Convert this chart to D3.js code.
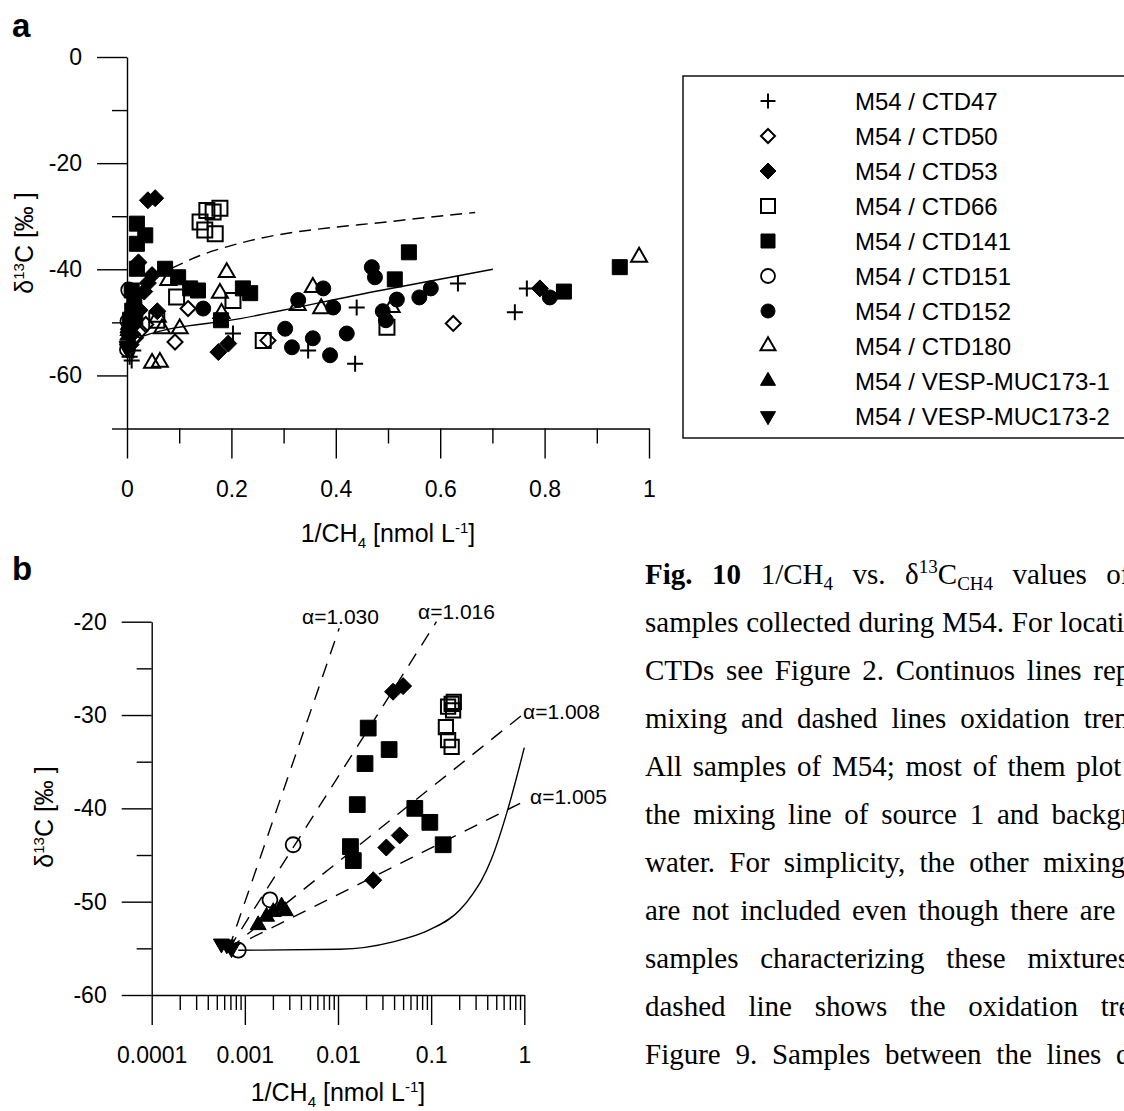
<!DOCTYPE html>
<html>
<head>
<meta charset="utf-8">
<script src="https://cdn.jsdelivr.net/npm/d3@7"></script>
<style>
  html, body { margin: 0; padding: 0; background: #fff; }
  svg { display: block; }
</style>
</head>
<body>
<svg id="fig" width="1124" height="1111"></svg>
<script>
// ---------- legend / series names ----------
const seriesNames = [
  "M54 / CTD47", "M54 / CTD50", "M54 / CTD53", "M54 / CTD66", "M54 / CTD141",
  "M54 / CTD151", "M54 / CTD152", "M54 / CTD180", "M54 / VESP-MUC173-1", "M54 / VESP-MUC173-2"
];

// ---------- panel a: [1/CH4, d13C] ----------
const a47 = [[0.440,-47.2],[0.203,-52.1],[0.347,-55.3],[0.437,-57.8],[0.634,-42.7],[0.766,-43.6],
  [0.743,-48.1],[0.012,-55.3],[0.005,-56.5],[0.009,-57.2]];
const a50 = [[0.117,-47.4],[0.092,-53.7],[0.270,-53.4],[0.625,-50.2],[0.025,-51.6],[0.036,-50.4],[0.016,-52.9]];
const a53 = [[0.040,-27.0],[0.054,-26.6],[0.022,-38.7],[0.048,-41.1],[0.040,-42.6],[0.033,-44.2],
  [0.024,-47.7],[0.058,-47.9],[0.175,-55.6],[0.194,-54.0],[0.791,-43.6],[0.015,-50.3],[0.010,-52.2],[0.007,-54.2]];
const a66 = [[0.153,-28.9],[0.165,-29.2],[0.178,-28.5],[0.140,-31.1],[0.149,-32.6],[0.169,-33.3],
  [0.095,-45.2],[0.203,-45.9],[0.057,-49.6],[0.261,-53.4],[0.498,-50.9]];
const a141 = [[0.019,-31.4],[0.035,-33.6],[0.019,-35.2],[0.019,-39.9],[0.073,-39.9],[0.098,-41.5],
  [0.121,-43.6],[0.136,-44.0],[0.222,-43.6],[0.236,-44.5],[0.180,-49.6],[0.540,-36.8],[0.513,-41.9],
  [0.837,-44.2],[0.944,-39.6],[0.009,-44.0],[0.014,-45.4],[0.010,-47.8],[0.016,-48.6],[0.006,-49.5]];
const a151 = [[0.00085,-55.1],[0.00186,-49.8],[0.0033,-43.9]];
const a152 = [[0.146,-47.4],[0.328,-45.8],[0.376,-43.6],[0.395,-47.2],[0.303,-51.2],[0.316,-54.7],
  [0.356,-53.0],[0.389,-56.2],[0.421,-52.1],[0.469,-39.6],[0.475,-41.5],[0.517,-45.7],[0.490,-47.9],
  [0.496,-49.6],[0.560,-45.3],[0.582,-43.6],[0.810,-45.3]];
const a180 = [[0.191,-40.6],[0.079,-42.1],[0.178,-44.5],[0.181,-48.3],[0.356,-43.4],[0.372,-47.4],
  [0.327,-46.8],[0.067,-51.2],[0.101,-51.2],[0.048,-57.7],[0.063,-57.5],[0.507,-47.2],[0.981,-37.7],[0.059,-49.0]];
const aV1 = [[0.00139,-52.5],[0.00171,-51.6],[0.00202,-51.1],[0.00248,-50.5],[0.00272,-51.0]];
const aV2 = [[0.00056,-54.5],[0.00064,-54.6],[0.00072,-55.0]];

// mixing (solid) and oxidation (dashed) trends, panel a
const mixA = [[0.001,-55.6],[0.009,-55.0],[0.019,-53.7],[0.031,-52.6],[0.217,-49.3],[0.485,-44.0],[0.701,-40.0]];
const oxA  = [[0.086,-39.8],[0.140,-37.4],[0.201,-35.5],[0.523,-30.8],[0.667,-29.3]];

// ---------- panel b: [1/CH4 (log), d13C] ----------
const b53  = [[0.039,-27.5],[0.050,-26.9],[0.046,-42.9],[0.033,-44.2],[0.0239,-47.7]];
const b66  = [[0.175,-28.6],[0.166,-28.8],[0.152,-29.1],[0.172,-29.5],[0.144,-31.3],[0.152,-32.7],[0.166,-33.4]];
const b141 = [[0.0211,-31.4],[0.0354,-33.7],[0.0195,-35.2],[0.0161,-39.6],[0.0668,-40.0],[0.0968,-41.5],
  [0.1346,-43.9],[0.0136,-44.1],[0.0146,-45.6]];
const b151 = [[0.00085,-55.2],[0.00186,-49.8],[0.0033,-43.9]];
const bV1  = [[0.00139,-52.5],[0.00171,-51.6],[0.00202,-51.1],[0.00248,-50.5],[0.00272,-51.0]];
const bV2  = [[0.00056,-54.5],[0.00064,-54.6],[0.00072,-55.0]];

const mixB = [[0.00085,-55.2],[0.0105,-55.1],[0.039,-54.3],[0.0968,-53.0],[0.203,-50.9],[0.283,-49.1],
  [0.348,-47.7],[0.445,-45.4],[0.67,-40.0],[1.0,-33.5]];
const oxOrigin = [0.00067,-55.1];
const oxLabels = ["α=1.030","α=1.016","α=1.008","α=1.005"];
const oxEnds   = [[0.0103,-20.7],[0.114,-20.0],[0.92,-30.1],[0.97,-39.3]];

// ---------- ticks ----------
const aXMajor = [0,0.2,0.4,0.6,0.8,1], aXLabels = ["0","0.2","0.4","0.6","0.8","1"];
const aXMinor = [0.1,0.3,0.5,0.7,0.9];
const aYMajor = [0,-20,-40,-60], aYLabels = ["0","-20","-40","-60"];
const aYMinor = [-10,-30,-50,-70];
const bXMajor = [1e-4,1e-3,1e-2,1e-1,1], bXLabels = ["0.0001","0.001","0.01","0.1","1"];
const bXMinor = [1e-4,1e-3,1e-2,1e-1].flatMap(d => [2,3,4,5,6,7,8,9].map(k => +(d*k).toPrecision(3)));
const bYMajor = [-20,-30,-40,-50,-60], bYLabels = ["-20","-30","-40","-50","-60"];
const bYMinor = [-25,-35,-45,-55];

// ---------- caption ----------
const captionLines = [
  [["Fig. 10","b"],[" 1/CH",""],["4","sub"],[" vs. δ",""],["13","sup"],["C",""],["CH4","sub"],[" values of the",""]],
  [["samples collected during M54. For locations of",""]],
  [["CTDs see Figure 2. Continuos lines represent",""]],
  [["mixing and dashed lines oxidation trends. a)",""]],
  [["All samples of M54; most of them plot near",""]],
  [["the mixing line of source 1 and background",""]],
  [["water. For simplicity, the other mixing lines",""]],
  [["are not included even though there are some",""]],
  [["samples characterizing these mixtures. b) The",""]],
  [["dashed line shows the oxidation trend of",""]],
  [["Figure 9. Samples between the lines do",""]]
];
const captionSpacing = [12.3, 0.5, 4.5, 6.7, 3.5, 5.5, 7, 4.3, 14.5, 15.6, 7.5];

// ================= drawing =================
const SANS = 'Arial, "Liberation Sans", Helvetica, sans-serif';
const SERIF = '"Times New Roman", "Liberation Serif", serif';
const svg = d3.select("#fig");
svg.append("rect").attr("width", 1124).attr("height", 1111).attr("fill", "#fff");

// marker shapes; size = width in px
const symPlus = { draw(c, s) { const r = s/2; c.moveTo(-r,0); c.lineTo(r,0); c.moveTo(0,-r); c.lineTo(0,r); } };
const symSquare = { draw(c, s) { c.rect(-s/2, -s/2, s, s); } };
const symDiamond = { draw(c, s) { const r = s/2; c.moveTo(0,-r); c.lineTo(r,0); c.lineTo(0,r); c.lineTo(-r,0); c.closePath(); } };
const symCircle = { draw(c, s) { const r = s/2; c.moveTo(r,0); c.arc(0,0,r,0,2*Math.PI); } };
const symTri = { draw(c, s) { const h = s*Math.sqrt(3)/2; c.moveTo(0,-2*h/3); c.lineTo(s/2,h/3); c.lineTo(-s/2,h/3); c.closePath(); } };
const symTriDown = { draw(c, s) { const h = s*Math.sqrt(3)/2; c.moveTo(0,2*h/3); c.lineTo(s/2,-h/3); c.lineTo(-s/2,-h/3); c.closePath(); } };

const styles = [
  { type: symPlus,    size: 16, fill: "none", sw: 2 },
  { type: symDiamond, size: 15, fill: "none", sw: 2 },
  { type: symDiamond, size: 17, fill: "#000", sw: 1 },
  { type: symSquare,  size: 15, fill: "none", sw: 2 },
  { type: symSquare,  size: 15, fill: "#000", sw: 1 },
  { type: symCircle,  size: 15, fill: "none", sw: 1.8 },
  { type: symCircle,  size: 15, fill: "#000", sw: 1 },
  { type: symTri,     size: 16, fill: "none", sw: 2 },
  { type: symTri,     size: 16, fill: "#000", sw: 1 },
  { type: symTriDown, size: 16, fill: "#000", sw: 1 }
];

function drawPoints(g, data, st, x, y, sizeScale = 1) {
  g.append("g").selectAll("path").data(data).join("path")
    .attr("transform", d => `translate(${x(d[0])},${y(d[1])})`)
    .attr("d", d3.symbol().type(st.type).size(st.size * sizeScale))
    .attr("fill", st.fill).attr("stroke", "#000").attr("stroke-width", st.sw);
}

function styleAxis(g, fs) {
  g.attr("font-family", SANS).attr("font-size", fs);
  g.selectAll("path, line").attr("stroke", "#000").attr("stroke-width", 1.4);
  g.selectAll("text").attr("fill", "#000");
}

// rich text: parts = [[text, kind]] with kind "", "b", "sub", "sup"
function rich(text, parts, fs, ratio = 0.65) {
  let cur = 0;
  parts.forEach(([t, k]) => {
    const shift = k === "sub" ? fs*0.22 : k === "sup" ? -fs*0.38 : 0;
    const ts = text.append("tspan").text(t).attr("dy", shift - cur);
    cur = shift;
    if (k === "sub" || k === "sup") ts.attr("font-size", Math.round(fs*ratio));
    if (k === "b") ts.attr("font-weight", "bold");
  });
}

// ---------- panel a ----------
const xA = d3.scaleLinear().domain([0, 1]).range([127, 649]);
const yA = d3.scaleLinear().domain([-70, 0]).range([428.5, 57]);
const pa = svg.append("g");

pa.append("text").attr("x", 12).attr("y", 37).attr("font-family", SANS)
  .attr("font-size", 33).attr("font-weight", "bold").text("a");

let g = pa.append("g").attr("transform", `translate(0,${yA(-70)})`)
  .call(d3.axisBottom(xA).tickValues(aXMajor).tickSize(30).tickSizeOuter(0).tickPadding(22)
    .tickFormat((d, i) => aXLabels[i]));
styleAxis(g, 23);
g = pa.append("g").attr("transform", `translate(0,${yA(-70)})`)
  .call(d3.axisBottom(xA).tickValues(aXMinor).tickSize(15).tickFormat(""));
g.select(".domain").remove(); styleAxis(g, 23);
g = pa.append("g").attr("transform", `translate(${xA(0)},0)`)
  .call(d3.axisLeft(yA).tickValues(aYMajor).tickSize(30).tickSizeOuter(0).tickPadding(15)
    .tickFormat((d, i) => aYLabels[i]));
styleAxis(g, 23);
g = pa.append("g").attr("transform", `translate(${xA(0)},0)`)
  .call(d3.axisLeft(yA).tickValues(aYMinor).tickSize(15).tickFormat(""));
g.select(".domain").remove(); styleAxis(g, 23);

rich(pa.append("text").attr("x", 388).attr("y", 542).attr("text-anchor", "middle")
  .attr("font-family", SANS).attr("font-size", 25),
  [["1/CH",""],["4","sub"],[" [nmol L",""],["-1","sup"],["]",""]], 25, 0.6);
rich(pa.append("text").attr("transform", "translate(33,243) rotate(-90)").attr("text-anchor", "middle")
  .attr("font-family", SANS).attr("font-size", 25),
  [["δ",""],["13","sup"],["C [‰ ]",""]], 25, 0.6);

const lineA = d3.line().x(d => xA(d[0])).y(d => yA(d[1])).curve(d3.curveMonotoneX);
pa.append("path").attr("d", lineA(mixA)).attr("fill", "none").attr("stroke", "#000").attr("stroke-width", 1.4);
pa.append("path").attr("d", lineA(oxA)).attr("fill", "none").attr("stroke", "#000").attr("stroke-width", 1.4)
  .attr("stroke-dasharray", "12,7");

[a47, a50, a53, a66, a141, a151, a152, a180, aV1, aV2].forEach((data, i) => drawPoints(pa, data, styles[i], xA, yA));

// legend
const lg = pa.append("g");
lg.append("rect").attr("x", 683).attr("y", 76).attr("width", 480).attr("height", 362)
  .attr("fill", "none").attr("stroke", "#000").attr("stroke-width", 1.4);
const rowY = d3.scalePoint().domain(d3.range(seriesNames.length)).range([101, 416]);
seriesNames.forEach((name, i) => {
  const st = styles[i];
  lg.append("path").attr("transform", `translate(768,${rowY(i)})`)
    .attr("d", d3.symbol().type(st.type).size(st.size - 1))
    .attr("fill", st.fill).attr("stroke", "#000").attr("stroke-width", st.sw);
  lg.append("text").attr("x", 855).attr("y", rowY(i)).attr("dy", "0.36em")
    .attr("font-family", SANS).attr("font-size", 24).text(name);
});

// ---------- panel b ----------
const xB = d3.scaleLog().domain([1e-4, 1]).range([151.7, 524.3]);
const yB = d3.scaleLinear().domain([-60, -20]).range([995, 621.7]);
const pb = svg.append("g");

pb.append("text").attr("x", 12).attr("y", 580).attr("font-family", SANS)
  .attr("font-size", 33).attr("font-weight", "bold").text("b");

g = pb.append("g").attr("transform", `translate(0,${yB(-60)})`)
  .call(d3.axisBottom(xB).tickValues(bXMajor).tickSize(30).tickSizeOuter(0).tickPadding(22)
    .tickFormat((d, i) => bXLabels[i]));
styleAxis(g, 23);
g = pb.append("g").attr("transform", `translate(0,${yB(-60)})`)
  .call(d3.axisBottom(xB).tickValues(bXMinor).tickSize(15).tickFormat(""));
g.select(".domain").remove(); styleAxis(g, 23);
g = pb.append("g").attr("transform", `translate(${xB(1e-4)},0)`)
  .call(d3.axisLeft(yB).tickValues(bYMajor).tickSize(30).tickSizeOuter(0).tickPadding(15)
    .tickFormat((d, i) => bYLabels[i]));
styleAxis(g, 23);
g = pb.append("g").attr("transform", `translate(${xB(1e-4)},0)`)
  .call(d3.axisLeft(yB).tickValues(bYMinor).tickSize(15).tickFormat(""));
g.select(".domain").remove(); styleAxis(g, 23);

rich(pb.append("text").attr("x", 338).attr("y", 1101).attr("text-anchor", "middle")
  .attr("font-family", SANS).attr("font-size", 25),
  [["1/CH",""],["4","sub"],[" [nmol L",""],["-1","sup"],["]",""]], 25, 0.6);
rich(pb.append("text").attr("transform", "translate(53,817) rotate(-90)").attr("text-anchor", "middle")
  .attr("font-family", SANS).attr("font-size", 25),
  [["δ",""],["13","sup"],["C [‰ ]",""]], 25, 0.6);

const lineB = d3.line().x(d => xB(d[0])).y(d => yB(d[1]));
pb.append("path").attr("d", lineB.curve(d3.curveMonotoneX)(mixB)).attr("fill", "none")
  .attr("stroke", "#000").attr("stroke-width", 1.4);
lineB.curve(d3.curveLinear);
oxEnds.forEach((end, i) => {
  pb.append("path").attr("d", lineB([oxOrigin, end])).attr("fill", "none")
    .attr("stroke", "#000").attr("stroke-width", 1.4).attr("stroke-dasharray", "14,10");
});
const oxLabelAt = [[302, 624], [418, 619], [523, 719], [530, 804]];
oxLabels.forEach((t, i) => {
  pb.append("text").attr("x", oxLabelAt[i][0]).attr("y", oxLabelAt[i][1])
    .attr("font-family", SANS).attr("font-size", 21).text(t);
});

drawPoints(pb, b66, styles[3], xB, yB, 0.95);
drawPoints(pb, b141, styles[4], xB, yB, 1.05);
drawPoints(pb, b53, styles[2], xB, yB);
drawPoints(pb, b151, styles[5], xB, yB);
drawPoints(pb, bV1, styles[8], xB, yB);
drawPoints(pb, bV2, styles[9], xB, yB);

// ---------- caption ----------
const cap = svg.append("g").attr("font-family", SERIF).attr("font-size", 29).attr("fill", "#000");
captionLines.forEach((parts, i) => {
  const t = cap.append("text").attr("x", 645).attr("y", 584 + 48*i)
    .style("word-spacing", captionSpacing[i] + "px").attr("xml:space", "preserve");
  rich(t, parts, 29, 0.65);
});
</script>
</body>
</html>
